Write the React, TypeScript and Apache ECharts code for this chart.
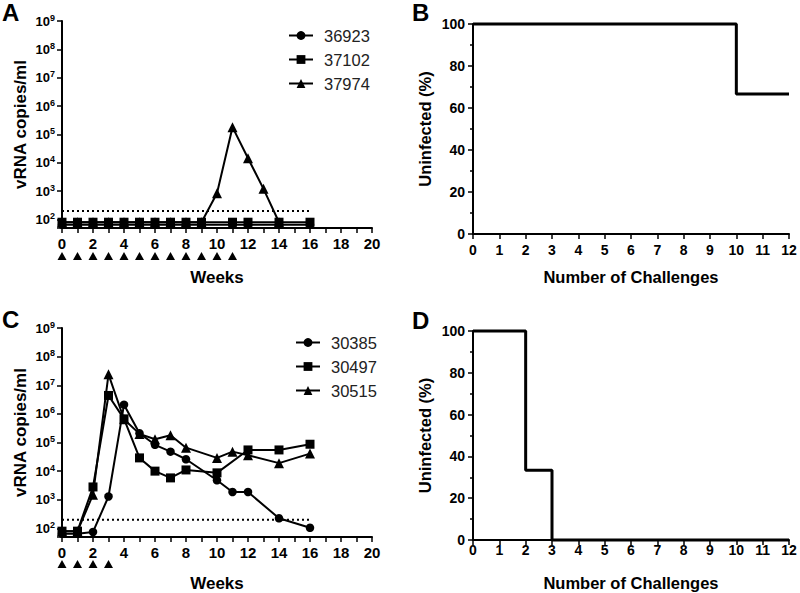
import React, { useEffect, useRef } from 'react';
import * as echarts from 'echarts';

// ---------- Panel A data ----------
const weeksA_36923 = [0, 1, 2, 3, 4, 5, 6, 7, 8, 9, 11, 12, 14, 16];
const vl_36923 = [65, 65, 65, 65, 65, 65, 65, 65, 65, 65, 65, 65, 65, 65];
const weeksA_37102 = [0, 1, 2, 3, 4, 5, 6, 7, 8, 9, 11, 12, 14, 16];
const vl_37102 = [80, 80, 80, 80, 80, 80, 80, 80, 80, 80, 80, 80, 80, 80];
const weeksA_37974 = [0, 1, 2, 3, 4, 5, 6, 7, 8, 9, 10, 11, 12, 13, 14];
const vl_37974 = [80, 80, 80, 80, 80, 80, 80, 80, 80, 80, 840, 180000, 14500, 1200, 80];
const challengeWeeksA = [0, 1, 2, 3, 4, 5, 6, 7, 8, 9, 10, 11];

// ---------- Panel C data ----------
const weeksC_30385 = [0, 1, 2, 3, 4, 5, 6, 7, 8, 10, 11, 12, 14, 16];
const vl_30385 = [65, 65, 75, 1300, 2100000, 210000, 83000, 48000, 26000, 4800, 1870, 1870, 225, 105];
const weeksC_30497 = [0, 1, 2, 3, 4, 5, 6, 7, 8, 10, 12, 14, 16];
const vl_30497 = [80, 80, 2800, 4400000, 670000, 29000, 10000, 5800, 11000, 8700, 55000, 55000, 87000];
const weeksC_30515 = [0, 1, 2, 3, 4, 5, 6, 7, 8, 10, 11, 12, 14, 16];
const vl_30515 = [80, 80, 1500, 24000000, 650000, 200000, 130000, 180000, 66000, 29000, 48000, 36000, 19000, 41000];
const challengeWeeksC = [0, 1, 2, 3];

// limit of detection (copies/ml) and the weeks it spans
const lodValue = 200;
const lodWeeks = [0, 16];

// ---------- Panels B and D (Kaplan-Meier) ----------
const challengesB = [0, 10, 12];
const uninfectedB = [100, 66.67, 66.67];
const challengesD = [0, 2, 3, 12];
const uninfectedD = [100, 33.33, 0, 0];

const weekTicks = [0, 2, 4, 6, 8, 10, 12, 14, 16, 18, 20];

const FONT = '"Liberation Sans", Arial, Helvetica, sans-serif';

const zip = (xs: number[], ys: number[]) => xs.map((x, i) => [x, ys[i]]);

function logLabel(v: number) {
  const l = Math.log10(v);
  const e = Math.round(l);
  if (Math.abs(l - e) > 1e-6) return '';
  return `{b|10}{s|${e}}`;
}

const logRich = {
  b: { fontSize: 13, fontWeight: 'bold', color: '#000', lineHeight: 16, fontFamily: FONT },
  s: { fontSize: 9, fontWeight: 'bold', color: '#000', lineHeight: 8, verticalAlign: 'top', fontFamily: FONT },
};

const axisLine = { show: true, onZero: false, lineStyle: { color: '#000', width: 2 } };
const axisTick = { show: true, length: 5, lineStyle: { color: '#000', width: 1.5 } };

function weeksXAxis(gridIndex: number, nameGap: number) {
  return {
    type: 'value', gridIndex, min: 0, max: 20, interval: 1,
    axisLine, axisTick,
    splitLine: { show: false },
    axisLabel: {
      color: '#000', fontSize: 15, fontWeight: 'bold', margin: 8, fontFamily: FONT,
      formatter: (v: number) => (weekTicks.includes(v) ? String(v) : ''),
    },
    name: 'Weeks', nameLocation: 'middle', nameGap,
    nameTextStyle: { color: '#000', fontSize: 17, fontWeight: 'bold', fontFamily: FONT },
  };
}

function logYAxis(gridIndex: number) {
  return {
    type: 'log', logBase: 10, gridIndex, min: 50, max: 1e9,
    axisLine, axisTick,
    splitLine: { show: false },
    minorTick: { show: false },
    axisLabel: { formatter: logLabel, rich: logRich, margin: 7 },
    name: 'vRNA copies/ml', nameLocation: 'middle', nameGap: 33, nameRotate: 90,
    nameTextStyle: { color: '#000', fontSize: 17, fontWeight: 'bold', fontFamily: FONT },
  };
}

function challengeXAxis(gridIndex: number, labelMargin: number) {
  return {
    type: 'value', gridIndex, min: 0, max: 12, interval: 1,
    axisLine, axisTick,
    splitLine: { show: false },
    axisLabel: { color: '#000', fontSize: 14, fontWeight: 'bold', margin: labelMargin, fontFamily: FONT },
    name: 'Number of Challenges', nameLocation: 'middle', nameGap: 34,
    nameTextStyle: { color: '#000', fontSize: 16.5, fontWeight: 'bold', fontFamily: FONT },
  };
}

function pctYAxis(gridIndex: number) {
  return {
    type: 'value', gridIndex, min: 0, max: 100, interval: 20,
    axisLine, axisTick,
    minorTick: { show: true, splitNumber: 2, length: 3, lineStyle: { color: '#000', width: 1.5 } },
    splitLine: { show: false },
    axisLabel: { color: '#000', fontSize: 14, fontWeight: 'bold', margin: 8, fontFamily: FONT },
    name: 'Uninfected (%)', nameLocation: 'middle', nameGap: 40, nameRotate: 90,
    nameTextStyle: { color: '#000', fontSize: 16.5, fontWeight: 'bold', fontFamily: FONT },
  };
}

function hiddenAxis(gridIndex: number, min: number, max: number) {
  return { type: 'value', gridIndex, min, max, show: false, splitLine: { show: false } };
}

function vlSeries(name: string, symbol: string, xi: number, data: number[][]) {
  return {
    name, type: 'line', xAxisIndex: xi, yAxisIndex: xi, data,
    symbol, symbolSize: symbol === 'triangle' ? 10 : symbol === 'circle' ? 8.5 : 9,
    itemStyle: { color: '#000', opacity: 1 },
    lineStyle: { color: '#000', width: 2 },
    clip: false, z: symbol === 'rect' ? 4 : 3,
  };
}

function lodSeries(xi: number) {
  return {
    type: 'line', xAxisIndex: xi, yAxisIndex: xi, silent: true,
    data: lodWeeks.map((w) => [w, lodValue]),
    symbol: 'none',
    lineStyle: { color: '#000', width: 2, type: [2, 3] },
    z: 1,
  };
}

function arrowSeries(xi: number, weeks: number[]) {
  return {
    type: 'scatter', xAxisIndex: xi, yAxisIndex: xi, silent: true,
    data: weeks.map((w) => [w, 0]),
    symbol: 'triangle', symbolSize: [9, 8],
    itemStyle: { color: '#000', opacity: 1 },
  };
}

function kmSeries(xi: number, xs: number[], ys: number[]) {
  return {
    type: 'line', xAxisIndex: xi, yAxisIndex: xi, step: 'end',
    data: zip(xs, ys), symbol: 'none', clip: false,
    lineStyle: { color: '#000', width: 3 },
  };
}

function legend(names: string[], left: number, top: number) {
  return {
    data: names, orient: 'vertical', left, top, padding: 0,
    itemWidth: 24, itemHeight: 11, itemGap: 7,
    selectedMode: false,
    textStyle: { fontSize: 16.5, color: '#222', fontFamily: FONT, padding: [0, 0, 0, 6] },
  };
}

function letter(text: string, left: number, top: number) {
  return {
    type: 'text', left, top,
    style: { text, fontSize: 24, fontWeight: 'bold', fill: '#000', font: `bold 24px ${FONT}` },
  };
}

export default function App() {
  const ref = useRef<HTMLDivElement>(null);

  useEffect(() => {
    if (!ref.current) return;
    const chart = echarts.init(ref.current, undefined, { renderer: 'svg' });
    const option: any = {
      animation: false,
      backgroundColor: '#fff',
      textStyle: { fontFamily: FONT },
      grid: [
        { left: 62, top: 21, width: 310, height: 207, outerBoundsMode: 'none' },
        { left: 62, top: 251, width: 310, height: 10, outerBoundsMode: 'none' },
        { left: 473, top: 24, width: 316, height: 210, outerBoundsMode: 'none' },
        { left: 62, top: 328, width: 310, height: 209, outerBoundsMode: 'none' },
        { left: 62, top: 559, width: 310, height: 10, outerBoundsMode: 'none' },
        { left: 473, top: 331, width: 316, height: 209, outerBoundsMode: 'none' },
      ],
      xAxis: [
        weeksXAxis(0, 41),
        hiddenAxis(1, 0, 20),
        challengeXAxis(2, 9),
        weeksXAxis(3, 38),
        hiddenAxis(4, 0, 20),
        challengeXAxis(5, 3),
      ],
      yAxis: [
        logYAxis(0),
        hiddenAxis(1, -1, 1),
        pctYAxis(2),
        logYAxis(3),
        hiddenAxis(4, -1, 1),
        pctYAxis(5),
      ],
      legend: [
        legend(['36923', '37102', '37974'], 288, 27),
        legend(['30385', '30497', '30515'], 295, 334),
      ],
      graphic: [
        letter('A', 2, 0),
        letter('B', 412, 0),
        letter('C', 2, 307),
        letter('D', 412, 308),
      ],
      series: [
        lodSeries(0),
        vlSeries('36923', 'circle', 0, zip(weeksA_36923, vl_36923)),
        vlSeries('37102', 'rect', 0, zip(weeksA_37102, vl_37102)),
        vlSeries('37974', 'triangle', 0, zip(weeksA_37974, vl_37974)),
        arrowSeries(1, challengeWeeksA),
        kmSeries(2, challengesB, uninfectedB),
        lodSeries(3),
        vlSeries('30385', 'circle', 3, zip(weeksC_30385, vl_30385)),
        vlSeries('30497', 'rect', 3, zip(weeksC_30497, vl_30497)),
        vlSeries('30515', 'triangle', 3, zip(weeksC_30515, vl_30515)),
        arrowSeries(4, challengeWeeksC),
        kmSeries(5, challengesD, uninfectedD),
      ],
    };
    chart.setOption(option);
    return () => chart.dispose();
  }, []);

  return (
    <div
      ref={ref}
      style={{ position: 'fixed', left: 0, top: 0, width: 800, height: 593, background: '#fff' }}
    />
  );
}
